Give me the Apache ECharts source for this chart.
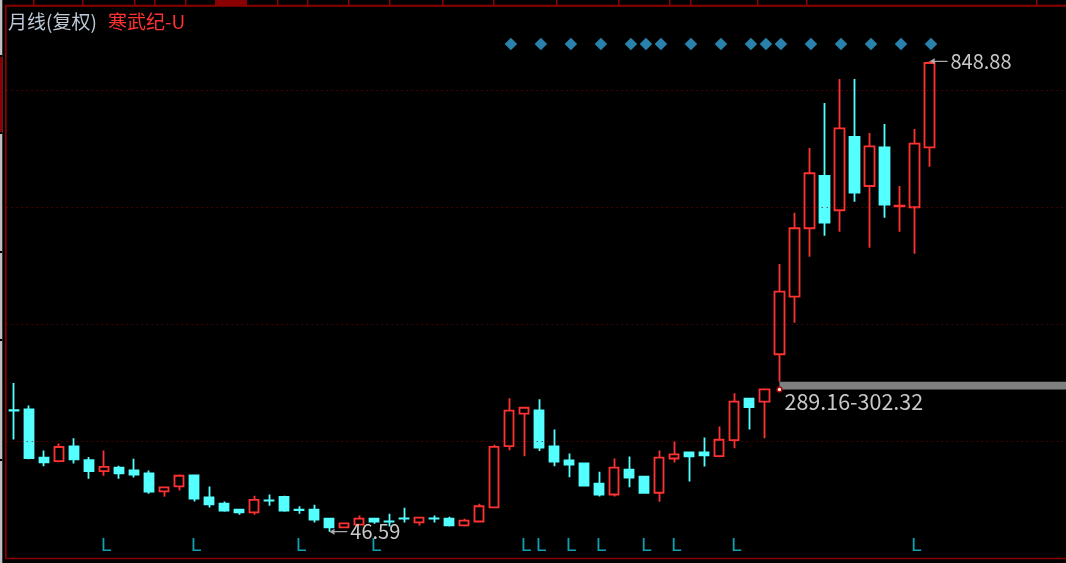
<!DOCTYPE html>
<html><head><meta charset="utf-8">
<script src="https://cdn.jsdelivr.net/npm/echarts@6/dist/echarts.min.js"></script>
<style>html,body{margin:0;padding:0;background:#000;}#c{width:1066px;height:563px;}</style>
</head><body><div id="c"></div>
<script>
// ---- data ----
const months = [
 '2020-07','2020-08','2020-09','2020-10','2020-11','2020-12',
 '2021-01','2021-02','2021-03','2021-04','2021-05','2021-06','2021-07','2021-08','2021-09','2021-10','2021-11','2021-12',
 '2022-01','2022-02','2022-03','2022-04','2022-05','2022-06','2022-07','2022-08','2022-09','2022-10','2022-11','2022-12',
 '2023-01','2023-02','2023-03','2023-04','2023-05','2023-06','2023-07','2023-08','2023-09','2023-10','2023-11','2023-12',
 '2024-01','2024-02','2024-03','2024-04','2024-05','2024-06','2024-07','2024-08','2024-09','2024-10','2024-11','2024-12',
 '2025-01','2025-02','2025-03','2025-04','2025-05','2025-06','2025-07','2025-08'
];
const openP = [254,255,173,167,192,168.5,150,156,151,146,
 115.5,124,142.5,105,94.5,84,79.5,100,106,84,
 84,68.7,54,58.5,68.7,64.3,69.2,62.4,69.2,68.7,
 57.3,64,88,192.5,248,253.6,192,168,163,128.7,
 110,152.6,140.6,113,171.4,181.7,181.7,175.4,202.7,273.6,
 268.3,349.2,447.4,564.1,653.3,594.8,719.8,636.2,702.2,601.6,
 599.9,702.2];
const closeP = [253.3,172,165,191,170,150,157,146,144,115,
 122,142,103,93,82.5,79.5,101,99.5,82.5,83.3,
 67,54,60.7,68.7,63.6,64,68.7,70.4,68.7,57.3,
 65.3,90,191.4,253,258,190,166.3,161.2,125,110,
 156,139,113,173,178.3,175,176.6,203.4,268.5,259.2,
 289.16,455.9,564.1,657.9,573.6,734.6,624.8,703.9,604.3,602.6,
 708.4,846];
const lowP = [204,170,158,165,163,137,142,137,139,111.5,
 106,117,98,88,80.7,75.6,75.6,91,80.7,77.3,
 62.4,46.59,52.8,57.3,60.2,55.5,62.4,57.3,62.4,55.5,
 55.5,62.4,86.4,185.6,175.4,184,158.2,139.4,123.5,106.4,
 106.4,122.3,111.5,97.8,164.6,132,157.7,173.6,189,221,
 205.9,302.32,403.1,515.6,551.4,558.3,609.4,531,582.1,558.3,
 520.7,669.1];
const highP = [300,262,185,197,206,174,185,159,171,151,
 123.5,144,143,123.5,98,84.5,108,110,108,90,
 92.7,69,62,74,69,77.3,87.5,72,74,72,
 68.7,94.4,195,274,259,272.4,221,180,164.6,149,
 171.4,174.8,141,185,200.5,182,207.4,226,282.7,274,
 289.16,503.2,590.7,701,777.8,818.7,818.7,726.6,742,636.2,
 733.4,848.88];
const signalIdx = [33,35,37,39,41,42,43,45,47,49,50,51,53,55,57,59,61];
const lIdx = [6,12,19,24,34,35,37,39,42,44,48,60];
const gridValues = [200,400,600,800];
const gapLow = 289.16, gapHigh = 302.32, gapStartIdx = 51;
const maxIdx = 61, maxVal = 848.88;
const minIdx = 21, minVal = 46.59;

// ---- build ----
const PAD = 10; // empty slots to the right of the last candle
const axisCats = months.slice();
for (let k = 1; k <= PAD; k++) {
  const [y, m] = months[months.length - 1].split('-').map(Number);
  const t = (m - 1 + k);
  axisCats.push((y + Math.floor(t / 12)) + '-' + String(t % 12 + 1).padStart(2, '0'));
}
const kData = months.map((m, i) => [openP[i], closeP[i], lowP[i], highP[i]]);

const RED = '#ff3232', CYAN = '#54ffff', FRAME = '#8b0000';
const NUMFONT = '"Noto Sans CJK SC", "Liberation Sans", sans-serif';
const arrowPath = 'path://M0,4 L7,0 L7,3.2 L24,3.2 L24,4.8 L7,4.8 L7,8 Z';

const gridL = 6.7, step = 15.005, gridW = step * axisCats.length;

const hiddenX = (gi) => ({type:'category', gridIndex: gi, data: axisCats, boundaryGap: true, show: false});

const chart = echarts.init(document.getElementById('c'), null, {renderer: 'canvas'});

const tabSeps = [33, 82, 134, 154, 185, 277, 307, 348, 389, 442, 493, 556, 618, 669, 690, 757, 806, 1036];
const leftGaps = [55, 132, 251, 339, 459];

const graphics = [
  {type:'rect', shape:{x:0, y:0, width:2.3, height:563}, style:{fill:'#c0c0c0'}, z:0},
  {type:'rect', shape:{x:0, y:57, width:2.3, height:75}, style:{fill:FRAME}, z:1},
  ...leftGaps.map(g => ({type:'rect', shape:{x:0, y:g, width:2.3, height:2}, style:{fill:'#000'}, z:1})),
  {type:'rect', shape:{x:215, y:0, width:32, height:5}, style:{fill:FRAME}, z:1},
  ...tabSeps.map(x => ({type:'rect', shape:{x:x, y:0, width:1.5, height:5}, style:{fill:FRAME}, z:1})),
  {type:'rect', shape:{x:5, y:4.7, width:1061, height:2}, style:{fill:FRAME}, z:1},
  {type:'rect', shape:{x:5, y:5, width:1.7, height:554}, style:{fill:FRAME}, z:1},
  {type:'rect', shape:{x:5, y:557.8, width:1061, height:1.5}, style:{fill:FRAME}, z:1},
  {type:'text', left: 8, top: 12, style:{text:'月线(复权)', fill:'#bcc8d6', font:'19px "Noto Sans CJK SC"'}, z:5},
  {type:'text', left: 108, top: 12, style:{text:'寒武纪-U', fill: RED, font:'19px "Noto Sans CJK SC"'}, z:5}
];

const gridBase = {left: gridL, width: gridW, outerBoundsMode: 'none', containLabel: false};

const option = {
  backgroundColor: '#000',
  animation: false,
  graphic: graphics,
  grid: [
    Object.assign({top: 2, height: 557}, gridBase),
    Object.assign({top: 38, height: 12}, gridBase),
    Object.assign({top: 538, height: 16}, gridBase)
  ],
  xAxis: [hiddenX(0), hiddenX(1), hiddenX(2)],
  yAxis: [
    {type:'value', gridIndex:0, min:0, max:950, show:false, splitLine:{show:false}},
    {type:'value', gridIndex:1, min:0, max:1, show:false, splitLine:{show:false}},
    {type:'value', gridIndex:2, min:0, max:1, show:false, splitLine:{show:false}}
  ],
  series: [
    {
      type: 'candlestick',
      xAxisIndex: 0, yAxisIndex: 0,
      data: kData,
      barWidth: 9.6,
      itemStyle: {color:'#000', color0: CYAN, borderColor: RED, borderColor0: CYAN, borderWidth: 1.8},
      markLine: {
        silent: true, symbol: ['none','none'], label:{show:false},
        lineStyle: {color: FRAME, type: [1,4], width: 1},
        data: gridValues.map(v => ({yAxis: v}))
      },
      markArea: {
        silent: true,
        itemStyle: {color: '#808080'},
        label: {show: true, formatter: gapLow.toFixed(2) + '-' + gapHigh.toFixed(2),
          position: [5, 9], align: 'left', verticalAlign: 'top',
          color: '#c8c8c8', fontSize: 21.5, fontFamily: NUMFONT},
        data: [[{xAxis: axisCats[gapStartIdx], yAxis: gapHigh}, {xAxis: axisCats[axisCats.length - 1], yAxis: gapLow}]]
      },
      markPoint: {
        silent: true,
        data: [
          {coord: [months[maxIdx], maxVal], symbol: arrowPath, symbolSize: [18, 6], symbolKeepAspect: false,
           symbolOffset: [9, 0], itemStyle: {color: '#a8a8a8'},
           label: {show: true, position: 'right', distance: 3, formatter: maxVal.toFixed(2), color: '#c8c8c8', fontSize: 20, fontFamily: NUMFONT}},
          {coord: [months[minIdx], minVal], symbol: arrowPath, symbolSize: [18, 6], symbolKeepAspect: false,
           symbolOffset: [9, 0], itemStyle: {color: '#a8a8a8'},
           label: {show: true, position: 'right', distance: 3, formatter: minVal.toFixed(2), color: '#c8c8c8', fontSize: 20, fontFamily: NUMFONT}},
          {coord: [months[gapStartIdx], gapLow], symbol: 'circle', symbolSize: 5,
           itemStyle: {color: '#e0e0e0', borderColor: '#b00000', borderWidth: 1.5}, label: {show: false}}
        ]
      }
    },
    {
      type: 'scatter', xAxisIndex: 1, yAxisIndex: 1,
      data: signalIdx.map(i => [axisCats[i], 0.5]),
      symbol: 'diamond', symbolSize: [12.5, 12.5], symbolOffset: [1.5, 0],
      itemStyle: {color: '#32a2d6'}, silent: true
    },
    {
      type: 'scatter', xAxisIndex: 2, yAxisIndex: 2,
      data: lIdx.map(i => [axisCats[i], 0.5]),
      symbolSize: 1, itemStyle: {color: 'rgba(0,0,0,0)'}, silent: true,
      label: {show: true, formatter: 'L', position: 'inside', offset: [2, 0], color: '#12c8e0',
        fontSize: 19, fontFamily: '"Liberation Sans", sans-serif'}
    }
  ]
};
chart.setOption(option);
</script>
</body></html>
